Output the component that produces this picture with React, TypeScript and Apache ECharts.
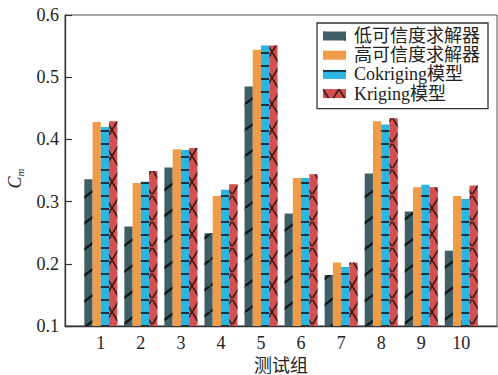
import React, { useEffect, useRef } from 'react';
import * as echarts from 'echarts';

const groups = [1, 2, 3, 4, 5, 6, 7, 8, 9, 10];
const lowFidelity = [0.336, 0.26, 0.355, 0.249, 0.485, 0.281, 0.182, 0.345, 0.284, 0.221];
const highFidelity = [0.428, 0.33, 0.384, 0.309, 0.544, 0.338, 0.202, 0.429, 0.323, 0.309];
const cokriging = [0.42, 0.332, 0.383, 0.319, 0.551, 0.338, 0.195, 0.424, 0.327, 0.304];
const kriging = [0.429, 0.349, 0.386, 0.328, 0.551, 0.344, 0.202, 0.434, 0.323, 0.326];
const seriesNames = ['低可信度求解器', '高可信度求解器', 'Cokriging模型', 'Kriging模型'];
const seriesColors = ['#3f5f67', '#ef9b47', '#2bb5e0', '#d44f4f'];
const xAxisName = '测试组';

const FONT = "'Liberation Serif', 'Noto Sans CJK SC', serif";
const TEXT = '#222';

const decals: any[] = [
  {
    symbol: 'path://M0,26 L0,24.5 L33,0 L35,0 L35,1.5 L2,26 Z',
    dashArrayX: [[35, 0]],
    dashArrayY: [26, 0],
    symbolSize: 1,
    symbolKeepAspect: false,
    color: 'rgba(15,15,15,0.9)',
  },
  null,
  {
    symbol: 'rect',
    dashArrayX: [[20, 0]],
    dashArrayY: [1.8, 10.7],
    symbolSize: 1,
    symbolKeepAspect: false,
    color: 'rgba(20,45,60,0.95)',
  },
  {
    symbol:
      'path://M0,0 L1,0 L16,24.4 L16,26 L15,26 L0,1.6 Z M16,0 L15,0 L0,24.4 L0,26 L1,26 L16,1.6 Z',
    dashArrayX: [[16, 0]],
    dashArrayY: [26, 0],
    symbolSize: 1,
    symbolKeepAspect: false,
    color: 'rgba(30,15,15,0.85)',
  },
];

const valuesList = [lowFidelity, highFidelity, cokriging, kriging];

export default function App() {
  const ref = useRef<HTMLDivElement>(null);
  useEffect(() => {
    if (!ref.current) return;
    const chart = echarts.init(ref.current, null, { renderer: 'svg' });
    const series = seriesNames.map((name, k) => ({
      type: 'bar',
      name,
      data: groups.map((g, i) => [g, valuesList[k][i]]),
      barWidth: 8.25,
      barGap: '0%',
      itemStyle: decals[k]
        ? { color: seriesColors[k], decal: decals[k] }
        : { color: seriesColors[k] },
    }));
    chart.setOption({
      animation: false,
      backgroundColor: '#fff',
      grid: {
        left: 65,
        right: 1,
        top: 15,
        bottom: 49,
        show: true,
        borderColor: '#555',
        borderWidth: 1,
        backgroundColor: 'transparent',
        containLabel: false,
        outerBoundsMode: 'none',
      },
      legend: {
        orient: 'vertical',
        left: 317,
        top: 23,
        padding: [4, 8, 6, 6],
        itemWidth: 23,
        itemHeight: 9,
        itemGap: 1.2,
        icon: 'rect',
        borderColor: '#333',
        borderWidth: 1.3,
        backgroundColor: '#fff',
        data: seriesNames,
        textStyle: {
          fontSize: 18,
          fontFamily: FONT,
          color: TEXT,
          padding: [0, 0, 0, 3],
        },
      },
      xAxis: {
        type: 'value',
        min: 0.106,
        max: 10.891,
        splitLine: { show: false },
        axisLine: { show: true, onZero: false, lineStyle: { color: '#333', width: 1.3 } },
        axisTick: {
          show: true,
          inside: true,
          length: 6,
          customValues: groups,
          lineStyle: { color: '#333', width: 1.2 },
        },
        axisLabel: {
          customValues: groups,
          margin: 8,
          fontSize: 18,
          fontFamily: FONT,
          color: TEXT,
        },
        name: xAxisName,
        nameLocation: 'middle',
        nameGap: 30,
        nameTextStyle: { fontSize: 18, fontFamily: FONT, color: TEXT },
      },
      yAxis: {
        type: 'value',
        min: 0.1,
        max: 0.6,
        interval: 0.1,
        splitLine: { show: false },
        axisLine: { show: true, lineStyle: { color: '#333', width: 1.3 } },
        axisTick: { show: true, inside: true, length: 7, lineStyle: { color: '#333', width: 1.2 } },
        axisLabel: {
          margin: 6,
          fontSize: 18,
          fontFamily: FONT,
          color: TEXT,
          formatter: (v: number) => v.toFixed(1),
        },
        name: '{c|C}{m|m}',
        nameLocation: 'middle',
        nameGap: 40,
        nameTextStyle: {
          color: TEXT,
          padding: [0, 16, 0, 0],
          rich: {
            c: { fontFamily: FONT, fontStyle: 'italic', fontSize: 18, lineHeight: 20, color: TEXT },
            m: {
              fontFamily: FONT,
              fontStyle: 'italic',
              fontSize: 11,
              lineHeight: 11,
              padding: [9, 0, 0, 0],
              color: TEXT,
            },
          },
        },
      },
      series,
    });
    return () => chart.dispose();
  }, []);
  return <div ref={ref} style={{ width: 498, height: 375, position: 'absolute', left: 0, top: 0 }} />;
}
